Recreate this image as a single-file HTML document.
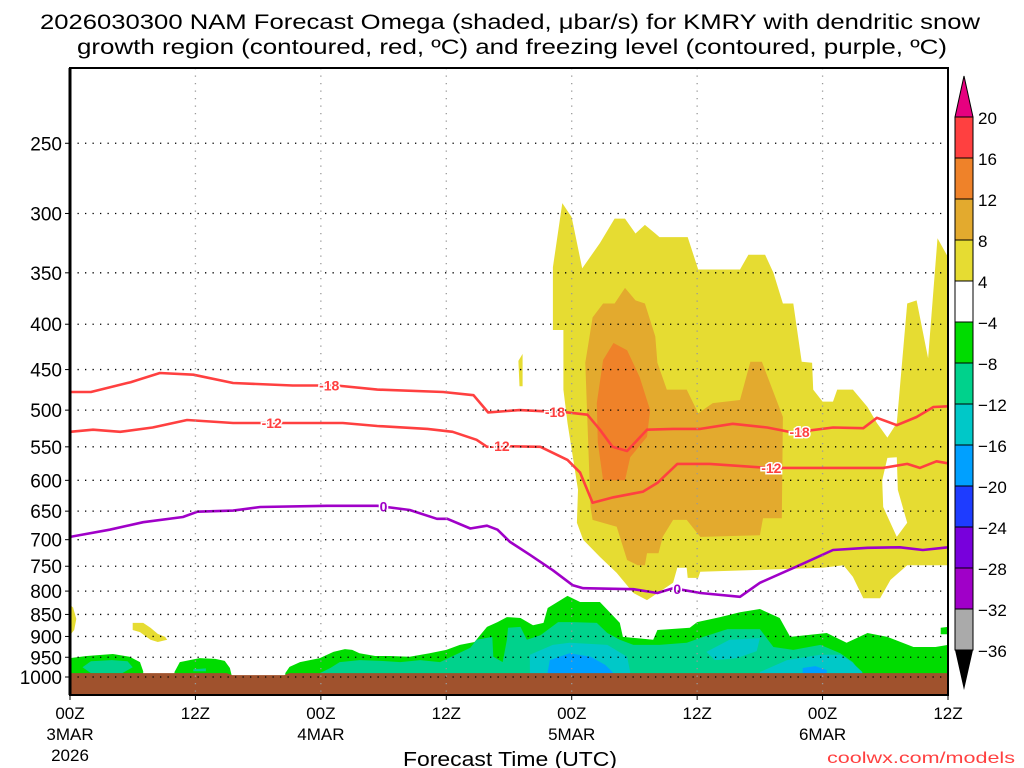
<!DOCTYPE html>
<html><head><meta charset="utf-8"><style>
html,body{margin:0;padding:0;background:#fff;}
svg{display:block;font-family:"Liberation Sans",sans-serif;}
</style></head><body>
<svg id="chart" width="1024" height="768" viewBox="0 0 1024 768" xmlns="http://www.w3.org/2000/svg">
<text x="510" y="29" text-anchor="middle" font-size="21" textLength="940" lengthAdjust="spacingAndGlyphs">2026030300 NAM Forecast Omega (shaded, μbar/s) for KMRY with dendritic snow</text>
<text x="512" y="54" text-anchor="middle" font-size="21" textLength="870" lengthAdjust="spacingAndGlyphs">growth region (contoured, red, ºC) and freezing level (contoured, purple, ºC)</text>
<g id="plot"></g>
<text x="510" y="766" text-anchor="middle" font-size="20" textLength="214" lengthAdjust="spacingAndGlyphs">Forecast Time (UTC)</text>
<text x="1015" y="763" text-anchor="end" font-size="16" fill="#ff4040" textLength="188" lengthAdjust="spacingAndGlyphs">coolwx.com/models</text>
</svg>
<script>
// ---- data (hour, hPa) ----
const pressureTicks=[250,300,350,400,450,500,550,600,650,700,750,800,850,900,950,1000];
const timeTicks=[0,12,24,36,48,60,72,84];
const timeLabels1=["00Z","12Z","00Z","12Z","00Z","12Z","00Z","12Z"];
const timeLabels2=["3MAR","","4MAR","","5MAR","","6MAR",""];
const timeLabels3=["2026","","","","","","",""];
const surfaceHours=[0,3,6,9,12,15,15.5,18,20.5,21,24,30,36,42,48,54,60,66,72,78,84];
const surfacePres=[990,990,990,990,990,990,995,995,995,990,990,990,990,990,990,990,990,990,990,990,990];
const yellow4Main=[[47.1,292],[48.0,303],[49.0,346],[50.7,324],[52.1,304],[53.1,304],[54.1,316],[55.0,309],[56.0,316],[56.4,319],[59.1,319],[60.1,347],[64.1,347],[64.9,334],[66.5,334],[67.3,350],[68.2,379],[69.2,379],[70.0,441],[71.0,442],[71.1,474],[72.0,489],[73.0,489],[73.4,474],[74.9,474],[76.3,496],[77.2,517],[78.2,537],[79.1,517],[80.1,379],[81.0,376],[82.1,437],[83.0,320],[84,336],[84,748],[80.1,748],[78.5,777],[77.5,815],[75.9,815],[74.9,771],[74.0,748],[72.0,753],[60.3,761],[60.1,773],[59.1,773],[59.0,753],[58.1,753],[57.7,783],[55.2,819],[53.9,804],[52.3,763],[50.7,732],[49.1,700],[48.5,670],[48.6,615],[47.6,517],[47.2,474],[47.2,406],[46.2,406],[46.2,345]];
const yellow4Sliver=[[42.9,440],[43.3,432],[43.3,470],[43.0,470]];
const yellow4Left=[[0,829],[0.3,835],[0.6,860],[0.4,885],[0,897]];
const yellow4Blob=[[6.0,869],[7.0,869],[7.7,880],[8.4,894],[9.1,901],[9.3,908],[8.4,913],[7.7,908],[6.7,890],[6.0,885]];
const whiteHole=[[78.2,566],[79.1,565],[79.2,615],[80.1,670],[79.1,695],[77.8,643],[77.7,600]];
const gold8=[[50.0,393],[51.0,379],[52.1,379],[53.1,364],[54.1,376],[55.0,379],[56.0,413],[56.2,442],[57.1,474],[59.0,474],[60.1,504],[61.5,491],[64.1,487],[65.1,441],[66.2,441],[68.2,509],[68.1,662],[66.3,662],[66.0,692],[60.3,695],[59.0,665],[57.7,665],[56.7,695],[56.3,725],[55.2,725],[55.0,748],[54.3,748],[53.3,738],[52.3,677],[50.0,665],[49.8,643],[49.3,442]];
const orange12=[[52.0,420],[53.3,428],[54.5,459],[55.5,500],[55.2,536],[53.6,565],[53.1,600],[51.0,600],[50.5,544],[50.4,491],[51.0,439]];
const green1=[[0,952],[1.6,947],[4.1,942],[5.7,949],[6.7,962],[7.0,985],[7.0,1000],[0,1000]];
const teal1=[[1.2,975],[2.0,960],[4.0,957],[5.5,960],[6.0,975],[5.0,990],[2,990]];
const green2=[[10.0,987],[10.5,962],[12.4,952],[13.9,954],[14.8,959],[15.3,977],[15.5,1000],[10.0,1000]];
const teal2=[[11.8,980],[13,978],[13,985],[11.8,985]];
const green3=[[20.6,990],[21.0,974],[22.0,962],[23.9,952],[25.2,937],[26.3,930],[27.0,932],[27.7,940],[29.2,947],[30.6,947],[32.5,949],[34.4,940],[36.0,932],[37.3,920],[38.7,913],[39.9,878],[40.9,867],[41.8,856],[43.1,858],[44.3,874],[45.3,869],[45.7,836],[47.6,810],[48.8,823],[50.7,823],[52.6,869],[52.9,901],[55.8,908],[56.2,885],[59.3,880],[60.0,867],[62.2,856],[64.1,845],[66.0,838],[67.9,858],[68.9,901],[72.4,892],[74.3,915],[76.3,892],[78.2,901],[80.7,925],[82.8,925],[84,920],[84,1000],[20.6,1000]];
const green4=[[83.3,880],[84,878],[84,895],[83.3,895]];
const teal3=[[23.9,990],[24.9,977],[25.8,962],[27.7,957],[29.7,959],[31.6,962],[33.5,957],[35.4,962],[38.3,927],[38.9,908],[40.4,901],[40.5,949],[41.4,962],[41.8,908],[41.9,880],[43.1,878],[43.7,908],[45.0,897],[46.7,867],[48.1,867],[50.4,869],[51.4,892],[52.6,908],[53.9,920],[56.4,920],[59.0,915],[60.6,901],[62.9,883],[66.0,883],[67.3,925],[69.2,932],[71.8,920],[73.7,940],[74.9,962],[75.6,987],[75.6,1000],[23.9,1000]];
const cyan1=[[44.0,944],[46.2,920],[47.8,915],[51.4,920],[53.3,949],[53.6,987],[53.6,1000],[44,1000]];
const cyan2=[[60.9,937],[63.1,908],[66.0,904],[65.7,935],[63.8,952],[61.7,957]];
const cyan3=[[66.0,987],[68.6,957],[71.8,944],[73.7,944],[74.8,962],[75.8,987],[75.8,1000],[66,1000]];
const blue1=[[45.7,987],[45.9,957],[47.8,940],[49.8,949],[51.2,969],[51.9,987],[51.9,1000],[45.7,1000]];
const blue2=[[70.1,977],[71.3,972],[72.4,982],[72.4,1000],[70.1,1000]];
const iso18Hours=[0,2,5.8,8.6,11.8,15.6,21.3,25.5,29.4,35.7,38.6,40,43,47.6,49.5,50.7,51.9,53.3,55.2,57.7,60.3,63.4,66.7,69.2,73,75.9,77.2,79.1,81,82.6,84];
const iso18Pres=[477,477,465,454,456,466,469,469,474,477,481,503,500,503,506,526,550,556,526,525,525,518,523,530,523,524,510,520,509,496,495];
const iso12Hours=[0,2.2,4.8,7.9,11.2,15.6,21.3,26.1,29.4,34.2,36.6,38.9,39.9,41.1,45,47.6,48.8,50,52,54.8,56.2,58.1,61.2,66.7,71.5,77.8,80.1,81.3,82.9,84];
const iso12Pres=[529,526,529,523,513,517,517,517,521,525,529,540,550,549,550,569,588,636,627,618,604,575,575,581,581,581,575,581,571,574];
const frzHours=[0,3.8,7,10.8,12.2,15.6,18.2,24.6,29.4,32.5,35.1,36.1,38.3,39.9,40.9,42.1,44,46.2,48.1,49.1,53.9,56.2,57.7,60.3,64.1,66,69.8,73,76.3,79.4,81.6,84];
const frzPres=[695,682,669,660,651,649,643,641,641,648,663,663,680,675,682,704,728,758,788,794,796,804,794,804,812,783,748,719,715,714,719,714];
const iso18LabelHours=[24.8,46.4,69.8];
const iso12LabelHours=[19.3,41.1,67.1];
const frzLabelHours=[30,58.1];
const cbarValues=["20","16","12","8","4","−4","−8","−12","−16","−20","−24","−28","−32","−36"];
const cbarColors=["#ff4040","#ef8229","#e3aa2e","#e6dc32","#ffffff","#00dc00","#00d28c","#00c8c8","#00a0ff","#1e3cff","#7800dc","#a000c8","#aaaaaa"];

// ---- axes ----
const X0=70,X1=948,Y0=68,Y1=695;
const xS=h=>X0+h*(X1-X0)/84;
const yS=p=>677+385*Math.log(p/1000);
const NS="http://www.w3.org/2000/svg";
const plot=document.getElementById('plot');
function mk(tag,attrs,parent){const e=document.createElementNS(NS,tag);for(const k in attrs)e.setAttribute(k,attrs[k]);(parent||plot).appendChild(e);return e;}
const clip=mk('clipPath',{id:'pc'});mk('rect',{x:X0,y:Y0,width:X1-X0,height:Y1-Y0},clip);
const inner=mk('g',{'clip-path':'url(#pc)'});
function poly(pts,color,name){
  const e=mk('polygon',{points:pts.map(q=>xS(q[0]).toFixed(1)+','+yS(q[1]).toFixed(1)).join(' '),fill:color},inner);
  
  
}
poly(yellow4Main,'#e6dc32','omega-4-8-main');
poly(yellow4Sliver,'#e6dc32','omega-4-8-sliver');
poly(yellow4Left,'#e6dc32','omega-4-8-left');
poly(yellow4Blob,'#e6dc32','omega-4-8-blob');
poly(whiteHole,'#ffffff','omega-neutral-hole');
poly(gold8,'#e3aa2e','omega-8-12');
poly(orange12,'#ef8229','omega-12-16');
poly(green1,'#00dc00','omega-neg4-left');
poly(teal1,'#00d28c','omega-neg8-left');
poly(green2,'#00dc00','omega-neg4-mid');
poly(teal2,'#00d28c','omega-neg8-mid');
poly(green3,'#00dc00','omega-neg4-main');
poly(green4,'#00dc00','omega-neg4-edge');
poly(teal3,'#00d28c','omega-neg8-main');
poly(cyan1,'#00c8c8','omega-neg12-a');
poly(cyan2,'#00c8c8','omega-neg12-b');
poly(cyan3,'#00c8c8','omega-neg12-c');
poly(blue1,'#00a0ff','omega-neg16-a');
poly(blue2,'#00a0ff','omega-neg16-b');
// terrain
const tp=surfaceHours.map((h,i)=>[h,surfacePres[i]]).concat([[84,1100],[0,1100]]);
poly(tp,'#a0522d','terrain');
// grid
pressureTicks.forEach(p=>{
  const g=mk('line',{x1:X0,x2:X1,y1:yS(p),y2:yS(p),stroke:'#000','stroke-width':1.3,'stroke-dasharray':'1.3 6.2'});
  
  
});
timeTicks.slice(1,-1).forEach(h=>{
  const g=mk('line',{x1:xS(h),x2:xS(h),y1:Y0,y2:Y1,stroke:'#999','stroke-width':1.3,'stroke-dasharray':'1.3 6.2'});
  
  
});
// contours
function contour(hs,ps,color,name,labelHs,labelTxt){
  const d=hs.map((h,i)=>(i?'L':'M')+xS(h).toFixed(1)+','+yS(ps[i]).toFixed(1)).join(' ');
  const e=mk('path',{d:d,fill:'none',stroke:color,'stroke-width':2.6,'stroke-linejoin':'round'},inner);
  
  
  labelHs.forEach(h=>{
    let i=hs.findIndex(v=>v>=h);if(i<1)i=1;
    const f=(h-hs[i-1])/(hs[i]-hs[i-1]);
    const p=ps[i-1]+f*(ps[i]-ps[i-1]);
    const w=labelTxt.length*9+6;
    mk('rect',{x:xS(h)-w/2,y:yS(p)-7,width:w,height:14,fill:'#fff','fill-opacity':0},inner);
    const t=mk('text',{x:xS(h),y:yS(p)+5,'text-anchor':'middle','font-size':14,'font-weight':'bold',fill:color,stroke:'#fff','stroke-width':3,'paint-order':'stroke'},inner);
    t.textContent=labelTxt;
    
    
  });
}
contour(iso18Hours,iso18Pres,'#ff4040','isotherm-minus18',iso18LabelHours,'-18');
contour(iso12Hours,iso12Pres,'#ff4040','isotherm-minus12',iso12LabelHours,'-12');
contour(frzHours,frzPres,'#a000c8','freezing-level-0c',frzLabelHours,'0');
// frame
mk('rect',{x:X0,y:Y0,width:X1-X0,height:Y1-Y0,fill:'none',stroke:'#000','stroke-width':2});
mk('line',{x1:X0,x2:X0,y1:Y0,y2:Y1,stroke:'#000','stroke-width':3});
// y ticks
pressureTicks.forEach(p=>{
  mk('line',{x1:X0-5,x2:X0,y1:yS(p),y2:yS(p),stroke:'#000','stroke-width':1});
  const t=mk('text',{x:X0-8,y:yS(p)+7,'text-anchor':'end','font-size':19});
  t.textContent=p;
  
  
});
// x ticks
timeTicks.forEach((h,i)=>{
  mk('line',{x1:xS(h),x2:xS(h),y1:Y1,y2:Y1+5,stroke:'#000','stroke-width':1});
  [timeLabels1[i],timeLabels2[i],timeLabels3[i]].forEach((s,j)=>{
    if(!s)return;
    const t=mk('text',{x:xS(h),y:719+j*21,'text-anchor':'middle','font-size':17});
    t.textContent=s;
    
    
  });
});
// colorbar
const cb=mk('g',{});


const CX=955,CW=18,CY=117,CH=41;
mk('polygon',{points:`${CX},${CY} ${CX+CW},${CY} ${CX+CW/2},76`,fill:'#e6007f',stroke:'#000','stroke-width':1},cb);
cbarColors.forEach((c,i)=>{
  mk('rect',{x:CX,y:CY+i*CH,width:CW,height:CH,fill:c,stroke:'#000','stroke-width':1},cb);
});
const by=CY+cbarColors.length*CH;
mk('polygon',{points:`${CX},${by} ${CX+CW},${by} ${CX+CW/2},${by+40}`,fill:'#000'},cb);
cbarValues.forEach((v,i)=>{
  const t=mk('text',{x:978,y:CY+i*CH+7,'font-size':17},cb);
  t.textContent=v;
  
  
});
</script>
</body></html>
